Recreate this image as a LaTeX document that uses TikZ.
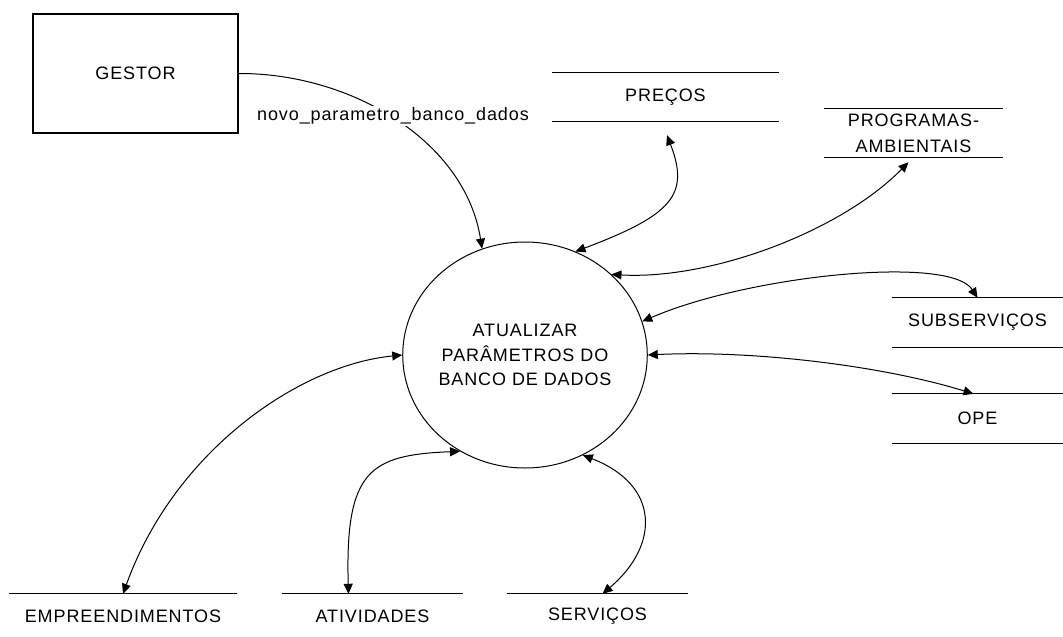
\documentclass[tikz,border=0pt]{standalone}
\usepackage{fontspec}
\setmainfont{Liberation Sans}[LetterSpace=5]
\usetikzlibrary{arrows.meta,shapes.geometric,calc}
\begin{document}
\begin{tikzpicture}[x=1pt,y=-1pt,
  every node/.style={font=\fontsize{18}{21.6}\selectfont, inner sep=0pt},
  ln/.style={line width=1.2pt},
  conn/.style={line width=1pt},
  >={Triangle[length=10pt,width=9pt]},
  storebox/.style 2 args={minimum width=#1, minimum height=#2}]
\fill[white] (0,0) rectangle (1063,637);
\useasboundingbox (0,0) rectangle (1063,637);

\node[draw, line width=1.2pt, minimum width=205pt, minimum height=119pt] (gestor) at (135.5,73.5) {GESTOR};
\node[ellipse, draw, line width=1pt, minimum width=214pt, minimum height=226pt, align=center,
      font=\fontsize{18}{24.5}\selectfont] (proc) at (525,355) {ATUALIZAR\\PARÂMETROS DO\\BANCO DE DADOS};

\node[storebox={227pt}{48pt}] (precos) at (665.5,97) {PREÇOS};
\node[storebox={179pt}{48pt}, align=center, font=\fontsize{18}{26}\selectfont] (prog) at (913.5,133) {PROGRAMAS-\\AMBIENTAIS};
\node[storebox={171pt}{49pt}] (subs) at (977.5,322.5) {SUBSERVIÇOS};
\node[storebox={171pt}{49pt}] (ope) at (977.5,418.5) {OPE};
\node[storebox={228pt}{44pt}] (emp) at (123,616) {EMPREENDIMENTOS};
\node[storebox={181pt}{44pt}] (ativ) at (372.5,616) {ATIVIDADES};
\node[storebox={181pt}{44pt}] (serv) at (597.5,616) {SERVIÇOS};

\foreach \n in {precos,prog,subs,ope}
  \draw[ln] (\n.north west) -- (\n.north east) (\n.south west) -- (\n.south east);
\foreach \n in {emp,ativ,serv}
  \draw[ln] (\n.north west) -- (\n.north east);

\coordinate (precosIn) at ($(precos.south)+(1.5,14)$);

\draw[conn,->] (gestor.east) .. controls (350,73) and (465,140) .. (proc.112);
\node[fill=white, inner sep=2pt] (lbl) at (393,116) {novo\_parametro\_banco\_dados};

\draw[conn,<->] (proc.64) .. controls (672,215) and (690,195) .. (precosIn);
\draw[conn,<->] (proc.43) .. controls (710,280) and (840,232) .. ([xshift=-5pt,yshift=-5pt]prog.south);
\draw[conn,<->] (proc.16) .. controls (750,275) and (950,255) .. (subs.north);
\draw[conn,<->] (proc.0) .. controls (750,350) and (880,365) .. ([xshift=-4pt]ope.north);
\draw[conn,<->] (proc.west) .. controls (300,365) and (175,450) .. (emp.north);
\draw[conn,<->] (proc.236) .. controls (370,455) and (345,470) .. ([xshift=-24pt]ativ.north);
\draw[conn,<->] (proc.300) .. controls (660,485) and (660,545) .. ([xshift=5pt]serv.north);
\end{tikzpicture}
\end{document}
